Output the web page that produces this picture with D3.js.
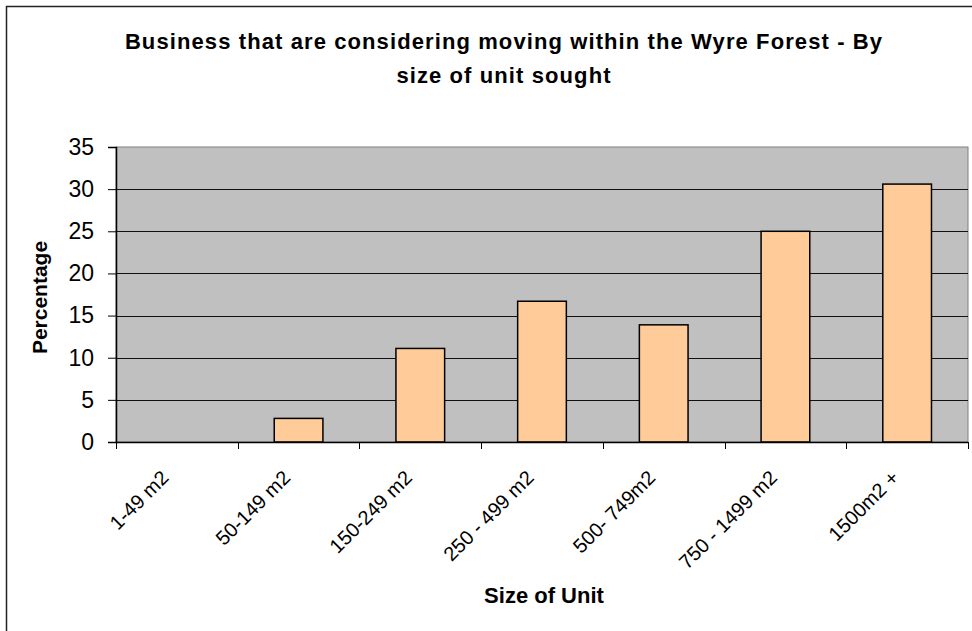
<!DOCTYPE html>
<html>
<head>
<meta charset="utf-8">
<script src="https://cdn.jsdelivr.net/npm/d3@7"></script>
<style>
  html, body { margin: 0; padding: 0; background: #fff; }
  svg { display: block; font-family: Arial, "Liberation Sans", sans-serif; }
</style>
</head>
<body>
<svg id="chart" width="972" height="631"></svg>
<script>
// Unit size bands and share of businesses (%) seeking each
const categories = ["1-49 m2", "50-149 m2", "150-249 m2", "250 - 499 m2", "500- 749m2", "750 - 1499 m2", "1500m2 +"];
const values = [0, 2.8, 11.1, 16.7, 13.9, 25.0, 30.6];
const yTicks = [0, 5, 10, 15, 20, 25, 30, 35];
const titleLines = ["Business that are considering moving within the Wyre Forest - By", "size of unit sought"];

const svg = d3.select("#chart");

// outer chart frame
svg.append("rect")
  .attr("x", 6.5).attr("y", 6.5)
  .attr("width", 980).attr("height", 640)
  .attr("fill", "#fff")
  .attr("stroke", "#222").attr("stroke-width", 1.5);

const plot = { left: 116, right: 968, top: 147, bottom: 442 };

const x = d3.scaleBand()
  .domain(categories)
  .range([plot.left, plot.right])
  .paddingInner(0.6)
  .paddingOuter(0.3);

const xOuter = d3.scaleBand()
  .domain(categories)
  .range([plot.left, plot.right]);

const y = d3.scaleLinear()
  .domain([0, 35])
  .range([plot.bottom, plot.top]);

// plot background
svg.append("rect")
  .attr("x", plot.left).attr("y", plot.top)
  .attr("width", plot.right - plot.left)
  .attr("height", plot.bottom - plot.top)
  .attr("fill", "#c0c0c0")
  .attr("stroke", "#808080").attr("stroke-width", 1);

// horizontal gridlines
svg.append("g")
  .selectAll("line")
  .data(yTicks.filter(t => t > 0 && t < 35))
  .join("line")
  .attr("x1", plot.left).attr("x2", plot.right)
  .attr("y1", d => Math.round(y(d)) + 0.5).attr("y2", d => Math.round(y(d)) + 0.5)
  .attr("stroke", "#111").attr("stroke-width", 1);

// bars
svg.append("g")
  .selectAll("rect")
  .data(values)
  .join("rect")
  .attr("x", (d, i) => x(categories[i]))
  .attr("y", d => y(d))
  .attr("width", x.bandwidth())
  .attr("height", d => y(0) - y(d))
  .attr("fill", d => d > 0 ? "#ffcc99" : "none")
  .attr("stroke", d => d > 0 ? "#000" : "none")
  .attr("stroke-width", 1.5);

// y axis
const yAxis = svg.append("g")
  .attr("transform", `translate(${plot.left},0)`)
  .call(d3.axisLeft(y).tickValues(yTicks).tickSize(8).tickPadding(14).tickFormat(d3.format("d")));
yAxis.select(".domain").attr("stroke", "#000").attr("stroke-width", 1.5);
yAxis.selectAll(".tick line").attr("stroke", "#000");
yAxis.selectAll(".tick text")
  .attr("font-size", 23).attr("fill", "#000")
  .attr("font-family", "Arial, 'Liberation Sans', sans-serif");

// x axis baseline with ticks at category boundaries
const xg = svg.append("g");
xg.append("line")
  .attr("x1", plot.left).attr("x2", plot.right)
  .attr("y1", plot.bottom + 0.5).attr("y2", plot.bottom + 0.5)
  .attr("stroke", "#000").attr("stroke-width", 1.5);
const boundaries = categories.map(c => xOuter(c)).concat([plot.right]);
xg.selectAll("line.tk")
  .data(boundaries)
  .join("line")
  .attr("class", "tk")
  .attr("x1", d => Math.round(d) + 0.5).attr("x2", d => Math.round(d) + 0.5)
  .attr("y1", plot.bottom).attr("y2", plot.bottom + 7)
  .attr("stroke", "#000").attr("stroke-width", 1);

// rotated category labels
xg.selectAll("text")
  .data(categories)
  .join("text")
  .attr("transform", d => `translate(${xOuter(d) + xOuter.bandwidth() / 2 - 7},${plot.bottom + 37}) rotate(-45)`)
  .attr("text-anchor", "end")
  .attr("font-size", 20)
  .attr("fill", "#000")
  .text(d => d);

// title
svg.append("text")
  .attr("x", 504).attr("y", 49)
  .attr("text-anchor", "middle")
  .attr("font-size", 22).attr("font-weight", "bold")
  .attr("letter-spacing", 1.1)
  .selectAll("tspan")
  .data(titleLines)
  .join("tspan")
  .attr("x", 504)
  .attr("dy", (d, i) => i === 0 ? 0 : 34)
  .text(d => d);

// axis titles
svg.append("text")
  .attr("transform", `translate(47,${(plot.top + plot.bottom) / 2 + 3}) rotate(-90)`)
  .attr("text-anchor", "middle")
  .attr("font-size", 21).attr("font-weight", "bold")
  .text("Percentage");

svg.append("text")
  .attr("x", 544).attr("y", 603)
  .attr("text-anchor", "middle")
  .attr("font-size", 22).attr("font-weight", "bold")
  .text("Size of Unit");
</script>
</body>
</html>
